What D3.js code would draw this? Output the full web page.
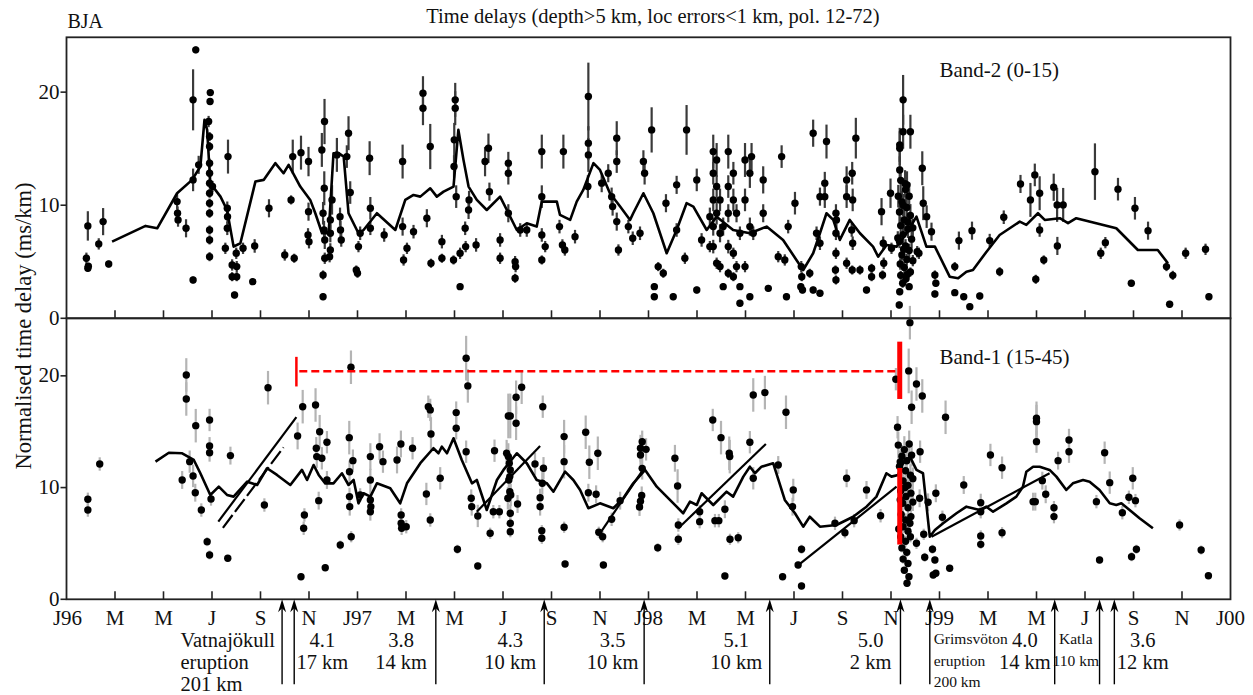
<!DOCTYPE html>
<html>
	<head>
		<title>BJA time delays</title>
		<style>
			body, html { margin: 0; padding: 0; background: #fff; }
			svg { display: block; }
			text { font-family: "Liberation Serif", "Times New Roman", serif; fill: #111; }
		</style>
	</head>
	<body>

		<svg id="svg" width="1253" height="695"></svg>

		<script src="https://cdn.jsdelivr.net/npm/d3@7"></script>
		<script>
			/*
			Two stacked panels of normalised time delay against time (months since Jan 1996).
			Points are [month, value, half error], lines are [month, value].
			*/

			// x axis ticks, every two months
			const xTickMonths = d3.range(0, 49, 2)
			const xTickLabels = ['J96','M','M','J','S','N','J97','M','M','J','S','N','J98','M','M','J','S','N','J99','M','M','J','S','N','J00']
			const yTickValues = [0, 10, 20]

			// Band-2 (0-15) points
			const band2Points = [
				[0.82,5.31,0.5],[0.88,4.42,0.3],[0.9,4.6,0.3],[0.88,8.17,1.3],[1.33,6.58,0.5],[1.51,8.55,1.2],[1.74,4.8,0.3],
				[4.56,10.32,0.7],[4.58,9.29,0.6],[4.6,8.7,0.6],[4.93,7.96,0.8],[5.22,19.32,2.7],[5.33,23.74,0.3],[5.22,12.24,1],[5.22,3.39,0.3],[5.45,13.57,0.8],
				[5.86,17.4,0.5],[5.93,19.96,0.3],[5.92,19.17,0.3],[5.9,16.07,0.4],[5.9,15.19,0.4],[5.9,13.72,0.4],[5.9,12.83,0.4],[5.9,11.95,0.4],[5.9,11.06,0.4],[5.9,10.18,0.4],[5.9,9.29,0.4],[5.9,7.81,0.4],[5.9,6.93,0.4],[5.9,5.45,0.4],[6.02,11.65,0.5],
				[6.63,9.73,0.6],[6.64,8.99,0.6],[6.63,7.96,0.6],[6.66,14.3,1.5],[6.55,6.19,0.5],[6.83,4.72,0.5],[6.83,3.68,0.4],[6.93,2.06,0.3],[7.0,5.75,0.5],[7.02,4.57,0.5],[7.02,3.68,0.4],[7.28,6.19,0.5],[7.68,3.24,0.3],[7.76,6.4,0.6],
				[8.35,9.73,0.8],[9.0,5.6,0.5],[9.26,10.47,0.4],[9.39,5.31,0.4],[9.33,14.3,1.5],[9.67,14.65,1.5],[9.98,13.86,1.3],[9.98,9.43,0.8],[9.96,7.37,0.6],[10.0,6.78,0.6],
				[10.53,14.89,1.5],[10.64,17.4,2],[10.63,11.5,1.5],[10.58,9.29,1],[10.62,7.81,0.8],[10.65,6.93,0.8],[10.65,5.31,0.5],[10.58,3.83,0.4],[10.58,1.91,0.3],
				[10.88,8.7,0.8],[10.88,7.52,0.8],[10.88,6.04,0.6],[10.85,5.45,0.5],[10.95,10.47,1.3],[11.15,14.45,1.5],[11.28,8.99,0.8],[11.3,7.81,0.8],[11.33,6.93,0.6],
				[11.56,14.3,1],[11.63,16.37,1.5],[11.7,11.12,1],[11.95,4.27,0.4],[12.0,3.98,0.4],[12.04,6.34,0.5],[12.11,7.52,0.6],
				[12.5,14.16,1.5],[12.53,9.73,1],[12.53,7.96,0.6],[13.1,7.37,0.6],[13.86,13.86,1.5],[13.86,8.11,0.8],[13.9,5.16,0.5],[14.04,6.19,0.5],[14.31,7.66,0.6],
				[14.7,19.91,1.5],[14.7,18.58,1.5],[15.0,15.19,2],[14.86,8.85,0.8],[15.03,4.87,0.4],[15.48,6.78,0.6],[15.48,5.31,0.4],[15.96,5.16,0.4],
				[16.03,19.32,1.5],[16.03,18.58,1.5],[15.99,15.78,1.5],[15.98,13.42,1],[16.07,10.76,1],[16.23,5.75,0.5],[16.23,2.8,0.3],[16.44,7.96,0.6],[16.46,6.34,0.5],[16.58,9.58,0.8],[16.6,10.47,0.8],[16.89,6.49,0.6],
				[17.26,13.86,1.3],[17.4,15.04,1.3],[17.44,11.2,0.8],[17.88,6.93,0.6],[17.88,5.31,0.5],[18.22,13.72,1],[18.22,12.83,1],[18.22,9.29,0.8],[18.5,5.01,0.5],[18.52,4.57,0.5],[18.5,3.54,0.4],[18.71,7.81,0.6],[18.98,7.81,0.6],
				[19.6,14.74,1.5],[19.6,10.76,1],[19.6,7.37,0.6],[19.74,6.34,0.5],[19.6,5.16,0.4],[20.33,8.11,0.6],[20.49,14.74,1.5],[20.45,6.49,0.5],[20.55,6.04,0.5],[20.97,7.22,0.6],
				[21.52,19.61,3],[21.52,15.49,1.5],[21.52,14.45,1.5],[21.5,11.65,1],[22.07,11.95,0.8],[22.34,12.83,0.8],[22.48,10.76,0.8],[22.52,9.88,0.8],[22.69,15.93,1.5],[22.69,13.86,1],[22.69,8.55,0.8],[22.76,6.04,0.5],[23.17,8.11,0.6],[23.35,7.08,0.6],
				[23.79,13.86,1],[23.84,12.83,1],[23.65,7.52,0.6],[24.13,16.66,2],[24.24,2.8,0.3],[24.24,1.91,0.3],[24.4,4.57,0.4],[24.61,3.98,0.4],[24.72,10.18,0.8],[25.02,1.91,0.3],[25.16,11.8,0.8],[25.16,7.81,0.6],[25.5,5.31,0.5],[25.57,16.66,2.2],[25.99,12.24,1],[25.99,2.5,0.3],[26.19,6.93,0.6],[26.53,8.99,0.8],[26.53,6.34,0.5],
				[26.67,14.74,1.5],[26.67,12.83,1],[26.67,10.47,1],[26.67,8.11,0.8],[26.67,6.34,0.6],[26.81,14.0,1.5],[26.81,11.65,1],[26.81,9.29,1],[26.81,4.87,0.5],[26.95,10.47,1],[26.95,7.52,0.8],[26.95,4.57,0.5],[27.08,8.11,0.8],[27.08,2.8,0.3],
				[27.29,14.74,1.5],[27.29,11.65,1],[27.29,9.29,0.8],[27.29,6.34,0.6],[27.29,3.98,0.4],[27.5,12.83,1],[27.5,10.47,1],[27.5,5.75,0.5],[27.5,3.68,0.4],[27.63,9.29,0.8],[27.63,4.57,0.5],[27.77,7.52,0.6],[27.77,2.8,0.3],[27.77,1.33,0.3],
				[27.98,14.0,1.5],[27.98,10.47,1],[27.98,4.57,0.5],[28.18,12.83,1.3],[28.18,8.11,0.8],[28.18,1.91,0.3],[28.32,7.52,0.6],[28.25,14.3,1.2],[28.73,12.24,1.2],[28.73,9.29,0.8],[28.94,2.65,0.3],[29.35,5.45,0.5],[29.49,14.3,1],[29.62,5.16,0.5],[29.69,1.91,0.3],
				[30.04,10.18,1],[29.76,8.11,0.6],[30.3,4.57,0.5],[30.32,3.68,0.4],[30.28,2.8,0.3],[30.35,2.5,0.3],[30.65,3.98,0.4],[30.79,16.37,1.2],[30.93,7.52,0.6],[30.79,2.5,0.3],
				[31.07,10.76,0.8],[31.07,6.64,0.6],[31.07,2.21,0.3],[31.34,15.63,1.5],[31.27,11.95,1],[31.27,10.76,1],[31.73,9.29,0.8],[31.75,8.7,0.8],[31.73,7.52,0.6],[31.73,5.75,0.5],[31.71,4.27,0.4],[31.73,3.39,0.4],
				[32.17,12.24,1.2],[32.17,10.76,1],[32.17,4.87,0.5],[32.4,12.83,1],[32.42,10.47,1],[32.38,7.81,0.6],[32.42,6.64,0.6],[32.4,4.27,0.4],[32.55,15.93,1.8],[32.72,4.27,0.4],[32.99,2.5,0.3],[33.2,3.68,0.4],[33.2,4.42,0.4],
				[33.61,9.43,1.2],[33.68,6.64,0.6],[33.7,4.87,0.5],[33.65,3.83,0.4],[33.98,11.06,1.3],[34.02,6.19,0.5],
				[34.5,19.32,2.2],[34.5,16.5,1.5],[34.8,16.5,1.5],[34.36,15.34,1.5],[34.36,15.04,1.5],[34.36,13.12,1.2],[35.29,13.27,1.5],[34.66,11.8,1.2],[35.33,10.18,1.5],[35.47,8.99,1],[35.67,7.66,0.8],[35.08,5.89,0.5],[34.36,2.35,0.3],[34.34,1.18,0.3],[35.81,3.83,0.4],[35.81,2.15,0.3],[35.85,3.1,0.3],
				[34.4,12.2,1.2],[34.6,11.4,1.2],[34.75,10.8,1.2],[34.45,10.3,1],[34.65,9.8,1],[34.35,9.4,1],[34.8,9.1,1],[34.55,8.7,1],[34.4,8.2,0.8],[34.7,7.9,0.8],[34.5,7.4,0.8],[34.85,7.0,0.8],[34.35,6.8,0.6],[34.6,6.4,0.6],[34.75,6.0,0.6],[34.45,5.6,0.5],[34.65,5.2,0.5],
				[34.38,4.8,0.5],[34.55,4.5,0.5],[34.8,4.1,0.4],[34.4,3.8,0.4],[34.62,3.5,0.4],[34.48,3.1,0.4],[34.75,2.8,0.3],[34.58,11.9,1.2],[34.5,10.0,1],[34.7,8.5,0.8],[34.52,6.1,0.6],[34.68,3.9,0.4],[34.9,5.1,0.5],[34.9,8.0,0.8],[34.28,7.1,0.6],[34.3,10.8,1],
				[35.15,5.75,0.5],[36.63,4.57,0.4],[36.63,2.27,0.3],[36.8,6.87,0.8],[37.0,1.91,0.3],[37.25,1.03,0.3],[37.66,1.97,0.3],[37.34,7.75,0.8],[38.07,6.87,0.6],[38.48,4.12,0.4],[38.65,8.94,0.6],
				[39.34,11.88,0.8],[39.75,10.47,1.5],[39.93,12.68,1],[40.13,11.06,1.5],[40.13,7.81,0.6],[39.97,3.45,0.4],[40.3,5.16,0.4],[40.71,11.59,1.2],[40.85,10.03,1.5],[41.1,10.03,1.5],[40.86,6.4,0.8],
				[42.41,12.97,2.5],[42.65,5.75,0.5],[42.84,6.69,0.5],[43.36,11.42,1],[43.91,3.1,0.3],[44.06,9.73,1],[44.6,7.75,0.8],[45.36,4.57,0.4],[45.62,3.8,0.4],[45.49,1.24,0.3],[46.15,5.75,0.5],[46.97,6.1,0.5],[47.11,1.91,0.3]
			]

			// Band-2 running average
			const band2Mean = [
				[1.88,6.78],[3.26,8.17],[3.74,7.96],[4.56,11.06],[5.18,12.24],[5.52,13.42],[5.69,17.55],[5.8,16.66],[5.93,11.95],[6.35,10.76],[6.62,9.58],[6.89,6.34],[7.17,6.64],[7.79,12.09],[8.13,12.24],[8.61,13.72],[8.95,12.83],[9.16,13.57],[9.64,11.65],[10.05,10.47],
				[10.26,9.29],[10.54,7.52],[10.81,7.52],[11.01,14.6],[11.22,14.6],[11.43,14.3],[11.63,9.29],[12.04,7.52],[12.25,7.81],[12.8,9.29],[13.56,7.81],[13.97,10.47],[14.31,10.91],[14.59,10.76],[15.0,11.5],[15.27,10.76],[15.55,11.2],[15.96,11.65],[16.16,16.66],[16.37,14.01],
				[16.58,11.65],[16.92,10.47],[17.33,9.58],[17.88,10.76],[18.16,9.58],[18.57,7.81],[18.98,8.41],[19.39,8.11],[19.6,10.32],[20.22,10.32],[20.35,9.14],[20.77,8.7],[21.04,10.32],[21.31,11.35],[21.73,13.72],[22.0,13.12],[22.41,11.06],[22.83,9.88],[23.24,8.7],[23.37,9.29],
				[23.79,11.06],[24.2,9.29],[24.75,5.75],[25.16,7.81],[25.57,10.18],[25.85,9.88],[26.4,7.81],[26.81,8.99],[27.49,7.81],[28.18,7.52],[28.87,8.11],[29.55,6.93],[30.1,5.16],[30.38,4.27],[30.79,5.75],[31.07,7.52],[31.34,9.29],[31.62,8.7],[31.89,6.93],[32.3,8.7],
				[32.72,7.52],[33.26,6.34],[33.47,5.45],[33.82,6.49],[34.23,6.34],[34.64,7.52],[35.05,8.99],[35.46,6.34],[35.81,6.34],[36.42,3.68],[36.77,3.54],[37.11,4.12],[37.38,4.27],[37.94,5.89],[38.48,7.37],[39.31,8.55],[39.58,8.26],[40.06,9.29],[40.34,8.7],[40.96,8.85],
				[41.3,8.41],[41.64,8.85],[43.29,7.96],[44.18,6.04],[45.0,6.04],[45.42,4.87]
			]

			// Band-1 (15-45) points
			const band1Points = [
				[0.88,8.95,0.6],[0.88,7.99,0.6],[1.37,12.11,0.6],[4.77,10.68,0.8],[4.94,20.08,1.5],[4.94,17.93,1.5],[5.08,12.32,1],[5.22,11.04,1],[5.31,9.54,0.8],[5.33,15.54,1.5],[5.56,7.99,0.6],[5.8,5.16,0.4],[5.9,3.97,0.4],[5.9,16.05,1],[5.9,13.72,0.8],[5.9,13.12,0.8],[5.96,8.98,0.6],
				[6.65,3.67,0.3],[6.76,12.86,0.8],[8.16,8.44,0.6],[8.31,18.94,1.5],[9.53,14.62,1.2],[9.67,2.02,0.3],[9.74,17.24,1.5],[9.81,7.55,0.6],[9.78,6.36,0.6],[10.27,17.39,1.5],[10.3,13.52,1],[10.32,12.77,1],[10.44,15.0,1.5],[10.53,12.62,1],[10.4,8.83,0.8],[10.67,2.83,0.3],[10.74,14.06,1],[10.74,10.68,0.8],
				[11.29,4.86,0.4],[11.66,14.47,1.5],[11.67,11.42,1],[11.67,9.19,0.8],[11.68,8.29,0.8],[11.74,5.6,0.5],[11.73,20.77,1.5],[11.81,12.41,1],[12.11,9.34,0.6],[12.53,12.77,1.2],[12.53,10.68,1],[12.53,8.89,0.8],[12.55,8.29,0.8],[12.53,7.84,0.8],[12.91,13.66,1.2],[13.05,12.32,1],
				[13.63,12.47,1.2],[13.79,13.9,1.2],[13.8,7.55,0.6],[13.8,6.8,0.6],[13.82,6.36,0.6],[14.01,6.5,0.6],[14.27,13.52,1],
				[14.92,17.24,1],[15.0,16.95,1],[15.03,14.8,1.5],[14.84,9.43,1],[15.0,7.1,0.6],[15.41,10.83,1],[16.07,16.71,1],[16.07,15.31,1],[16.48,21.58,2],[16.55,19.1,1.5],[16.48,13.21,1],[16.12,4.48,0.4],[16.69,9.04,0.8],[16.71,8.29,0.8],[16.96,7.46,1],[16.96,2.98,0.3],[17.47,5.91,0.5],[17.65,13.3,1],[17.6,7.84,0.6],[17.85,7.84,0.6],
				[18.15,13.07,1.2],[18.22,12.77,1.2],[18.26,12.18,1.2],[18.3,11.58,1.2],[18.28,10.98,1],[18.24,10.68,1],[18.28,9.63,1],[18.2,9.04,1],[18.32,9.34,1],[18.3,7.7,0.8],[18.3,6.8,0.6],[18.3,6.05,0.5],[18.22,16.41,2],[18.3,16.41,2],[18.54,15.76,1.5],[18.54,18.08,1.5],[18.77,18.98,1.5],[18.6,8.53,0.8],
				[19.32,12.11,1],[19.53,9.1,0.8],[19.53,8.29,0.8],[19.67,11.73,1],[19.62,10.38,1],[19.6,6.14,0.5],[19.6,5.46,0.5],[19.64,17.24,1],[20.52,14.56,1.5],[20.52,12.32,1.5],[20.52,6.45,0.5],[20.56,3.16,0.3],[21.41,14.95,1.5],[21.56,12.27,1.5],[21.52,9.54,0.8],[21.91,13.07,1.5],[21.84,9.4,0.8],[21.95,6.0,0.5],[22.11,5.6,0.5],[22.14,3.07,0.3],[22.48,7.16,0.6],[22.83,8.83,0.8],
				[23.67,13.52,1.2],[23.67,12.92,1],[23.74,14.1,1],[23.9,13.42,1],[23.74,11.72,1],[23.72,9.3,0.8],[23.67,8.77,0.8],[23.63,8.26,0.8],[24.38,4.62,0.4],[25.09,12.62,1.2],[25.2,10.14,1.5],[25.23,6.65,0.6],[25.23,5.37,0.5],[26.11,7.84,0.6],[26.11,6.95,0.6],[26.65,16.05,1],[26.74,7.04,0.6],[26.9,7.04,0.6],[26.99,14.47,1.5],
				[27.15,8.06,0.8],[27.15,2.09,0.3],[27.33,13.07,1.5],[27.35,12.77,1.5],[27.36,5.37,0.5],[27.7,5.51,0.5],[28.18,14.06,1],[28.32,18.29,1.5],[28.32,10.83,1],[28.8,18.5,1.5],[29.35,12.02,0.8],[29.67,16.74,1.5],[29.53,2.02,0.3],[29.97,9.79,1],[29.94,8.29,0.8],[30.31,4.48,0.4],[30.17,3.07,0.3],[30.31,1.19,0.3],
				[31.69,6.8,0.6],[32.1,5.96,0.5],[32.17,10.83,0.8],[32.48,7.04,0.6],[32.99,9.79,0.8],[33.57,7.48,0.6],[34.2,19.7,1],[34.27,15.4,1],[34.73,20.44,2],[34.78,24.76,1.5],[35.05,19.27,1.5],[35.29,18.2,1.5],[34.85,17.19,1.5],[35.2,13.21,1],
				[34.3,13.8,1.2],[34.55,13.4,1.2],[34.75,13.9,1.2],[34.45,12.8,1],[34.65,12.4,1],[34.85,12.9,1],[34.35,11.9,1],[34.6,11.5,1],[34.8,11.1,1],[34.5,10.6,1],[34.7,10.2,1],[34.9,10.8,1],[34.4,9.7,0.8],[34.62,9.2,0.8],[34.82,9.5,0.8],[34.48,8.6,0.8],[34.7,8.2,0.8],[34.9,8.7,0.8],[34.42,7.6,0.6],
				[34.6,7.1,0.6],[34.82,7.4,0.6],[34.5,6.5,0.6],[34.7,6.1,0.5],[34.4,5.6,0.5],[34.6,5.2,0.5],[34.8,5.6,0.5],[34.45,4.6,0.4],[34.65,4.2,0.4],[34.5,3.6,0.4],[34.7,3.2,0.3],[34.55,2.6,0.3],[34.66,1.43,0.3],[34.74,2.02,0.3],[34.38,12.3,1],[34.58,10.0,1],[34.38,8.9,0.8],[34.78,6.8,0.6],[34.32,6.3,0.5],
				[35.05,5.01,0.5],[35.18,9.04,0.8],[35.35,5.82,0.5],[35.39,3.76,0.4],[35.53,8.68,0.8],[35.71,4.48,0.4],[35.85,9.49,0.8],[35.81,3.52,0.3],[35.74,2.18,0.3],[35.85,2.33,0.3],[36.12,7.34,0.6],[36.25,16.29,1.5],[36.42,2.78,0.3],[37.0,10.23,0.8],
				[37.7,8.65,0.8],[37.7,7.84,0.6],[37.7,5.67,0.5],[37.7,4.92,0.4],[38.1,12.92,1],[38.58,11.78,1],[38.58,5.96,0.5],[39.86,8.74,0.8],[39.95,8.74,0.8],[40.0,16.2,1.5],[40.0,15.9,1.5],[40.0,14.11,1],[40.24,10.62,0.8],[40.38,9.4,0.8],[40.72,8.2,0.6],[40.72,7.4,0.6],[40.89,12.41,0.8],
				[41.34,14.26,1],[41.34,13.21,1],[42.47,8.74,0.6],[42.6,3.52,0.3],[42.81,13.12,1],[43.02,10.44,1],[43.54,7.75,0.6],[43.81,9.13,0.6],[44.08,8.83,0.6],[43.97,10.83,1],[43.92,3.81,0.4],[44.12,4.48,0.4],[45.9,6.65,0.5],[46.79,4.41,0.4],[47.09,2.11,0.3]
			]

			// Band-1 running average
			const band1Mean = [
				[3.67,12.32],[4.22,13.12],[4.77,13.07],[5.25,12.47],[5.52,11.28],[5.93,9.34],[6.28,10.08],[6.62,9.34],[6.89,9.19],[7.45,10.53],[7.86,10.23],[8.27,11.73],[8.68,11.13],[9.23,10.23],[9.71,11.58],[9.92,10.68],[10.19,12.02],[10.4,11.13],[10.67,10.38],[11.01,10.38],
				[11.36,11.28],[11.63,10.23],[11.84,10.68],[12.04,8.59],[12.25,9.49],[12.53,9.19],[12.8,10.38],[13.35,9.94],[13.76,8.59],[14.04,10.38],[14.59,12.18],[15.13,13.52],[15.34,13.07],[15.48,13.66],[15.69,13.07],[15.96,14.41],[16.3,12.47],[16.72,10.38],[16.92,10.68],[17.33,7.99],
				[17.75,10.68],[18.02,11.58],[18.57,13.07],[18.98,12.18],[19.39,10.68],[19.81,10.38],[20.08,9.63],[20.56,11.42],[20.9,10.68],[21.18,9.79],[21.52,8.15],[22.0,8.59],[22.55,8.15],[22.96,9.04],[23.37,10.38],[23.86,11.58],[24.34,10.08],[24.75,9.19],[25.16,8.29],[25.43,7.7],
				[25.71,8.74],[25.99,8.44],[26.19,9.49],[26.67,8.44],[27.22,9.63],[27.49,9.19],[27.91,10.98],[28.18,11.87],[28.39,11.28],[28.66,11.87],[29.14,12.18],[29.62,8.89],[30.04,7.7],[30.38,6.5],[30.65,7.39],[31.07,6.5],[31.75,6.65],[32.44,7.39],[32.99,8.29],[33.4,9.19],
				[33.81,11.28],[34.02,10.98],[34.29,11.13],[34.5,12.18],[34.78,12.77],[35.05,11.58],[35.32,11.28],[35.6,5.6],[35.81,6.2],[36.15,6.8],[36.7,7.7],[37.11,8.29],[37.66,7.99],[37.93,8.29],[38.21,7.84],[38.76,8.59],[39.17,9.19],[39.44,10.08],[39.58,11.42],[39.86,11.87],
				[40.13,11.87],[40.54,11.58],[40.82,10.98],[41.23,9.79],[41.5,10.38],[41.92,10.68],[42.19,10.53],[42.6,9.79],[43.02,8.59],[43.29,8.44],[43.5,8.59],[43.84,7.99],[44.25,7.25],[44.8,6.36]
			]

			// Band-1 straight trend segments
			const band1Trends = [
				[[6.26,6.95],[9.48,16.3]],
				[[16.92,7.84],[19.53,13.72]],
				[[22.0,5.9],[23.77,11.58]],
				[[25.23,6.36],[28.84,13.9]],
				[[30.1,2.92],[34.23,10.08]],
				[[35.67,5.6],[40.54,11.28]]
			]
			const band1DashedTrend = [[6.45,6.4],[8.95,13.6]]

			// red markers in Band-1: [month, from, to]
			const redThinBar = [9.48, 19.05, 21.7]
			const redThickBars = [[34.36, 17.93, 23.06], [34.36, 4.9, 11.76]]
			const redDashed = [[9.6, 20.4], [34.2, 20.4]]

			// events under the x axis
			const arrowMonths = [8.89, 9.39, 15.23, 19.7, 23.82, 29.0, 34.39, 35.6, 40.75, 42.6, 43.21]
			const eventLabels = [
				{ m: 4.7, lines: ['Vatnajökull', 'eruption', '201 km'], anchor: 'start', small: false },
				{ m: 10.55, lines: ['4.1', '17 km'], anchor: 'middle', small: false },
				{ m: 13.8, lines: ['3.8', '14 km'], anchor: 'middle', small: false },
				{ m: 18.3, lines: ['4.3', '10 km'], anchor: 'middle', small: false },
				{ m: 22.52, lines: ['3.5', '10 km'], anchor: 'middle', small: false },
				{ m: 27.62, lines: ['5.1', '10 km'], anchor: 'middle', small: false },
				{ m: 33.16, lines: ['5.0', '2 km'], anchor: 'middle', small: false },
				{ m: 35.76, lines: ['Grimsvöton', 'eruption', '200 km'], anchor: 'start', small: true },
				{ m: 39.52, lines: ['4.0', '14 km'], anchor: 'middle', small: false },
				{ m: 41.62, lines: ['Katla', '110 km'], anchor: 'middle', small: true },
				{ m: 44.38, lines: ['3.6', '12 km'], anchor: 'middle', small: false }
			]

			// ---- layout ----
			const svg = d3.select('#svg')
			const x = d3.scaleLinear().domain([0, 48]).range([66.5, 1230.5])
			const yTop = d3.scaleLinear().domain([0, 24.85]).range([318.3, 37.3])
			const yBot = d3.scaleLinear().domain([0, 25.15]).range([599.3, 318.3])

			svg.append('rect').attr('width', 1253).attr('height', 695).attr('fill', '#fff')

			function drawPanel(y, points, mean, barColor) {
				const g = svg.append('g')

				// error bars
				g.selectAll('line.err')
					.data(points)
					.join('line')
					.attr('x1', d => x(d[0])).attr('x2', d => x(d[0]))
					.attr('y1', d => y(d[1] - d[2])).attr('y2', d => y(d[1] + d[2]))
					.attr('stroke', barColor)
					.attr('stroke-width', 2.2)

				// running average
				g.append('path')
					.datum(mean)
					.attr('d', d3.line().x(d => x(d[0])).y(d => y(d[1])))
					.attr('fill', 'none')
					.attr('stroke', '#000')
					.attr('stroke-width', 2.6)
					.attr('stroke-linejoin', 'round')

				// points
				g.selectAll('circle')
					.data(points)
					.join('circle')
					.attr('cx', d => x(d[0]))
					.attr('cy', d => y(d[1]))
					.attr('r', 3.7)
					.attr('fill', '#000')

				return g
			}

			drawPanel(yTop, band2Points, band2Mean, '#3a3a3a')
			const bot = drawPanel(yBot, band1Points, band1Mean, '#b4b4b4')

			// trend segments
			const seg = d3.line().x(d => x(d[0])).y(d => yBot(d[1]))
			bot.selectAll('path.trend')
				.data(band1Trends)
				.join('path')
				.attr('class', 'trend')
				.attr('d', seg)
				.attr('fill', 'none')
				.attr('stroke', '#000')
				.attr('stroke-width', 2.2)
			bot.append('path')
				.datum(band1DashedTrend)
				.attr('d', seg)
				.attr('fill', 'none')
				.attr('stroke', '#000')
				.attr('stroke-width', 2.2)
				.attr('stroke-dasharray', '16,4')

			// red markers
			bot.append('line')
				.attr('x1', x(redThinBar[0])).attr('x2', x(redThinBar[0]))
				.attr('y1', yBot(redThinBar[1])).attr('y2', yBot(redThinBar[2]))
				.attr('stroke', '#f00').attr('stroke-width', 2.5)
			bot.append('path')
				.datum(redDashed)
				.attr('d', seg)
				.attr('stroke', '#f00').attr('stroke-width', 2.5)
				.attr('stroke-dasharray', '8,4')
			bot.selectAll('line.red')
				.data(redThickBars)
				.join('line')
				.attr('class', 'red')
				.attr('x1', d => x(d[0])).attr('x2', d => x(d[0]))
				.attr('y1', d => yBot(d[1])).attr('y2', d => yBot(d[2]))
				.attr('stroke', '#f00').attr('stroke-width', 5)

			// frames
			;[yTop, yBot].forEach(y => {
				svg.append('rect')
					.attr('x', x(0)).attr('y', y.range()[1])
					.attr('width', x(48) - x(0)).attr('height', y.range()[0] - y.range()[1])
					.attr('fill', 'none').attr('stroke', '#222').attr('stroke-width', 1.8)

				// x ticks pointing inward from the bottom
				svg.append('g').selectAll('line')
					.data(xTickMonths.slice(1, -1))
					.join('line')
					.attr('x1', d => x(d)).attr('x2', d => x(d))
					.attr('y1', y(0)).attr('y2', y(0) - 8)
					.attr('stroke', '#222').attr('stroke-width', 1.6)

				// y ticks outward with labels
				const yt = svg.append('g')
				yt.selectAll('line')
					.data(yTickValues)
					.join('line')
					.attr('x1', x(0) - 6).attr('x2', x(0))
					.attr('y1', d => y(d)).attr('y2', d => y(d))
					.attr('stroke', '#222').attr('stroke-width', 1.6)
				yt.selectAll('text')
					.data(yTickValues)
					.join('text')
					.attr('x', x(0) - 7)
					.attr('y', d => y(d) + 6.5)
					.attr('text-anchor', 'end')
					.attr('font-size', 21)
					.text(d => d)
			})

			// x tick labels
			svg.append('g').selectAll('text')
				.data(xTickMonths)
				.join('text')
				.attr('x', (d, i) => x(d) + (i === 0 ? 1 : 0))
				.attr('y', yBot(0) + 25.5)
				.attr('text-anchor', 'middle')
				.attr('font-size', 21)
				.text((d, i) => xTickLabels[i])

			// arrows
			const arrowLen = 85
			const ag = svg.append('g')
			arrowMonths.forEach(m => {
				const ax = x(m), ay = yBot(0)
				ag.append('line')
					.attr('x1', ax).attr('x2', ax)
					.attr('y1', ay + 8).attr('y2', ay + arrowLen)
					.attr('stroke', '#000').attr('stroke-width', 1.4)
				ag.append('path')
					.attr('d', `M${ax},${ay} L${ax + 4},${ay + 13} L${ax},${ay + 9} L${ax - 4},${ay + 13} Z`)
					.attr('fill', '#000')
			})

			// event labels
			const lg = svg.append('g')
			eventLabels.forEach(ev => {
				const lineGap = ev.small ? 21.5 : 22
				const size = ev.small ? 15.5 : 20.5
				const base = ev.small ? yBot(0) + 45 : yBot(0) + 47.8
				ev.lines.forEach((t, i) => {
					lg.append('text')
						.attr('x', x(ev.m))
						.attr('y', base + i * lineGap)
						.attr('text-anchor', ev.anchor)
						.attr('font-size', size)
						.text(t)
				})
			})

			// titles
			svg.append('text')
				.attr('x', 653).attr('y', 22.5)
				.attr('text-anchor', 'middle')
				.attr('font-size', 20.5)
				.text('Time delays (depth>5 km, loc errors<1 km, pol. 12-72)')
			svg.append('text')
				.attr('x', x(0) + 1).attr('y', 28)
				.attr('font-size', 20)
				.text('BJA')
			svg.append('text')
				.attr('x', x(36.0)).attr('y', yTop(0) - 241)
				.attr('font-size', 21)
				.text('Band-2 (0-15)')
			svg.append('text')
				.attr('x', x(36.0)).attr('y', yBot(0) - 235)
				.attr('font-size', 21)
				.text('Band-1 (15-45)')
			svg.append('text')
				.attr('transform', `translate(31, 326) rotate(-90)`)
				.attr('text-anchor', 'middle')
				.attr('font-size', 22.5)
				.text('Normalised time delay (ms/km)')
		</script>
	</body>
</html>
